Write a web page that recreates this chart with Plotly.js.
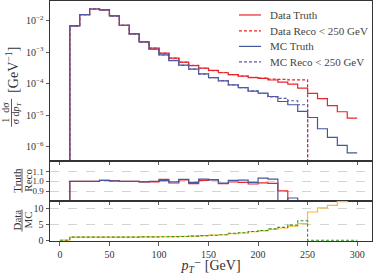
<!DOCTYPE html>
<html>
<head>
<meta charset="utf-8">
<script src="https://cdn.plot.ly/plotly-3.0.1.min.js"></script>
<style>html,body{margin:0;padding:0;background:#fff;}#plot{width:374px;height:275px;}</style>
</head>
<body>
<div id="plot"></div>
<script>
// bin edges (GeV)
const binEdges = [0,10,20,30,40,50,60,70,80,90,100,110,120,130,140,150,160,170,180,190,200,210,220,230,240,250,260,270,280,290,300];

// main panel: normalised distributions (per bin, 30 bins)
const dataTruth = [0,6.79e-3,1.55e-2,2.34e-2,2.18e-2,1.41e-2,7.14e-3,3.79e-3,2.12e-3,1.34e-3,9.29e-4,6.46e-4,4.82e-4,3.76e-4,3.11e-4,2.65e-4,2.23e-4,1.94e-4,1.74e-4,1.57e-4,1.48e-4,1.31e-4,1.12e-4,9.7e-5,7.24e-5,4.97e-5,3.37e-5,2.03e-5,1.29e-5,8.1e-6];
const dataReco  = [0,6.79e-3,1.55e-2,2.34e-2,2.18e-2,1.41e-2,7.14e-3,3.79e-3,2.12e-3,1.34e-3,9.2e-4,6.46e-4,4.78e-4,3.82e-4,3.09e-4,2.62e-4,2.27e-4,1.95e-4,1.76e-4,1.6e-4,1.5e-4,1.4e-4,1.37e-4,1.33e-4,1.33e-4,0,0,0,0,0];
const mcTruth   = [0,6.79e-3,1.55e-2,2.34e-2,2.18e-2,1.41e-2,7.14e-3,3.79e-3,2.12e-3,1.24e-3,8.2e-4,5.42e-4,3.87e-4,2.9e-4,2.06e-4,1.57e-4,1.23e-4,9.2e-5,7.57e-5,5.82e-5,5.03e-5,3.94e-5,2.73e-5,2.15e-5,1.32e-5,8.5e-6,3.73e-6,1.98e-6,1.11e-6,6.4e-7];
const mcReco    = [0,6.79e-3,1.55e-2,2.34e-2,2.18e-2,1.41e-2,7.14e-3,3.79e-3,2.12e-3,1.24e-3,8.15e-4,5.5e-4,3.8e-4,2.93e-4,2.02e-4,1.55e-4,1.25e-4,9.1e-5,7.5e-5,5.9e-5,4.9e-5,3.85e-5,3.45e-5,2.88e-5,2.15e-5,0,0,0,0,0];

// middle panel: truth / reco
const dataTruthOverReco = [0,1.0,1.0,1.0,1.01,1.005,1.0,1.0,0.995,0.995,1.02,0.995,1.015,0.977,1.01,1.017,0.977,0.993,0.99,0.973,0.985,0.98,0.905,0,0,0,0,0,0,0];
const mcTruthOverReco   = [0,1.0,1.0,1.0,1.01,1.005,1.0,1.0,0.995,1.0,1.007,0.983,1.02,0.99,1.023,1.015,0.983,1.01,1.013,0.99,1.033,1.023,0,0.833,0,0,0,0,0,0];

// bottom panel: data / MC
const truthDataOverMC = [0,1.0,1.0,1.0,1.0,1.0,1.0,1.0,1.05,1.07,1.1,1.15,1.2,1.3,1.45,1.6,1.75,2.1,2.3,2.7,3.0,3.5,3.9,4.5,5.3,9.0,10.3,11.1,12.3,13.0];
const recoDataOverMC  = [0,1.0,1.0,1.0,1.0,1.0,1.0,1.0,1.05,1.07,1.1,1.15,1.2,1.3,1.45,1.6,1.75,2.2,2.4,2.8,3.1,3.6,4.1,4.8,6.2,0,0,0,0,0];

const legendLabels = ['Data Truth', 'Data Reco &lt; 250 GeV', 'MC Truth', 'MC Reco &lt; 250 GeV'];

const xTicks = [0,50,100,150,200,250,300];
const mainTicks = [1e-6,1e-5,1e-4,1e-3,1e-2];
const mainTickText = ['10<sup>−6</sup>','10<sup>−5</sup>','10<sup>−4</sup>','10<sup>−3</sup>','10<sup>−2</sup>'];

const RED = '#e8262a', BLUE = '#44579c', PURP = '#5a5aa8', YEL = '#ffb833', GRN = '#2f9a1e';
const DASH = '3px,2px';

function stepY(vals, logFloor) {
  const v = vals.map(a => (logFloor && a <= 0) ? 1e-12 : a);
  return v.concat([v[v.length - 1]]);
}

const traces = [
  {x: binEdges, y: stepY(dataTruth, true), line: {color: RED, width: 1.2, shape: 'hv'}, xaxis: 'x', yaxis: 'y'},
  {x: binEdges, y: stepY(dataReco, true), line: {color: RED, width: 1.2, shape: 'hv', dash: DASH}, xaxis: 'x', yaxis: 'y'},
  {x: binEdges, y: stepY(mcTruth, true), line: {color: BLUE, width: 1.2, shape: 'hv'}, xaxis: 'x', yaxis: 'y'},
  {x: binEdges, y: stepY(mcReco, true), line: {color: PURP, width: 1.2, shape: 'hv', dash: DASH}, xaxis: 'x', yaxis: 'y'},
  {x: binEdges, y: stepY(dataTruthOverReco), line: {color: RED, width: 1.2, shape: 'hv'}, xaxis: 'x2', yaxis: 'y2'},
  {x: binEdges, y: stepY(mcTruthOverReco), line: {color: BLUE, width: 1.2, shape: 'hv'}, xaxis: 'x2', yaxis: 'y2'},
  {x: binEdges, y: stepY(truthDataOverMC), line: {color: YEL, width: 1.2, shape: 'hv'}, xaxis: 'x3', yaxis: 'y3'},
  {x: binEdges, y: stepY(recoDataOverMC), line: {color: GRN, width: 1.1, shape: 'hv', dash: DASH}, xaxis: 'x3', yaxis: 'y3'}
];
traces.forEach(t => { t.type = 'scatter'; t.mode = 'lines'; t.hoverinfo = 'skip'; t.showlegend = false; });

const FONT = 'Liberation Serif, DejaVu Serif, serif';
const TICKF = {family: FONT, size: 10, color: '#333'};
const TICKF_S = {family: FONT, size: 9, color: '#333'};
const axBase = {showline: true, mirror: true, linecolor: '#333', linewidth: 1, ticks: 'outside', ticklen: 3.5, tickwidth: 0.8, tickcolor: '#333', zeroline: false, tickfont: TICKF};

// pixel helpers for paper coordinates (plot area: x 50..372, y 1..241.5)
const PX = px => (px - 50) / 322;
const PY = py => (241.5 - py) / 240.5;

const shapes = [];
const annotations = [];

// legend (manual)
const legColors = [RED, RED, BLUE, PURP];
const legDash = ['solid', DASH, 'solid', DASH];
const legRows = [15, 31, 46.5, 62];
legendLabels.forEach((lab, i) => {
  shapes.push({type: 'line', xref: 'paper', yref: 'paper', x0: PX(239), x1: PX(261), y0: PY(legRows[i]), y1: PY(legRows[i]),
    line: {color: legColors[i], width: 1.2, dash: legDash[i]}});
  annotations.push({xref: 'paper', yref: 'paper', x: PX(268), y: PY(legRows[i]), xanchor: 'left', yanchor: 'middle', showarrow: false,
    text: lab, font: {family: FONT, size: 11, color: '#444'}});
});

function rotLabel(text, px, py, size) {
  annotations.push({xref: 'paper', yref: 'paper', x: PX(px), y: PY(py), xanchor: 'center', yanchor: 'middle', textangle: -90,
    showarrow: false, text: text, font: {family: FONT, size: size, color: '#333'}});
}
function vbar(px, py0, py1) {
  shapes.push({type: 'line', xref: 'paper', yref: 'paper', x0: PX(px), x1: PX(px), y0: PY(py0), y1: PY(py1), line: {color: '#333', width: 0.8}});
}

// main y label: 1/σ dσ/dpT [GeV^-1]
rotLabel('1  dσ', 6, 113, 10);
rotLabel('σ d<i>p</i><sub><i>T</i></sub>', 16.5, 113, 10);
vbar(11.5, 99, 127);
rotLabel('[GeV<sup>−1</sup>]', 12, 70, 14);

// Truth / Reco
rotLabel('Truth', 17, 181, 11);
rotLabel('Reco', 28, 181, 11);
vbar(22, 169, 193);

// Data / MC
rotLabel('Data', 17, 221, 11);
rotLabel('MC', 28, 221, 11);
vbar(22, 210, 232);

const layout = {
  width: 374, height: 275,
  margin: {l: 50, r: 2, t: 1, b: 33.5},
  paper_bgcolor: '#fff', plot_bgcolor: '#fff',
  showlegend: false,
  xaxis: Object.assign({}, axBase, {anchor: 'y', domain: [0, 1], range: [-10, 315], matches: 'x3', tickvals: xTicks, showticklabels: false, showgrid: false}),
  xaxis2: Object.assign({}, axBase, {anchor: 'y2', domain: [0, 1], range: [-10, 315], matches: 'x3', tickvals: xTicks, showticklabels: false, showgrid: false}),
  xaxis3: Object.assign({}, axBase, {anchor: 'y3', domain: [0, 1], range: [-10, 315], tickvals: xTicks, showgrid: false,
    title: {text: '<i>p</i><sub><i>T</i></sub>⁻ [GeV]', font: {family: FONT, size: 14, color: '#333'}, standoff: 5}}),
  yaxis: Object.assign({}, axBase, {domain: [0.3347, 1], type: 'log', range: [-6.44, -1.377], tickvals: mainTicks, ticktext: mainTickText, showgrid: false}),
  yaxis2: Object.assign({}, axBase, {domain: [0.1684, 0.3347], range: [0.807, 1.207], tickvals: [0.9, 1.0, 1.1], ticktext: ['0.9','1.0','1.1'],
    tickfont: TICKF_S, showgrid: true, gridcolor: '#c8c8c8', gridwidth: 0.8, griddash: 'dash'}),
  yaxis3: Object.assign({}, axBase, {domain: [0, 0.1684], range: [-0.25, 12.64], tickvals: [0, 5, 10], ticktext: ['0','5','10'],
    showgrid: true, gridcolor: '#c8c8c8', gridwidth: 0.8, griddash: 'dash'}),
  shapes: shapes,
  annotations: annotations
};

Plotly.newPlot('plot', traces, layout, {staticPlot: true, displayModeBar: false});
</script>
</body>
</html>
